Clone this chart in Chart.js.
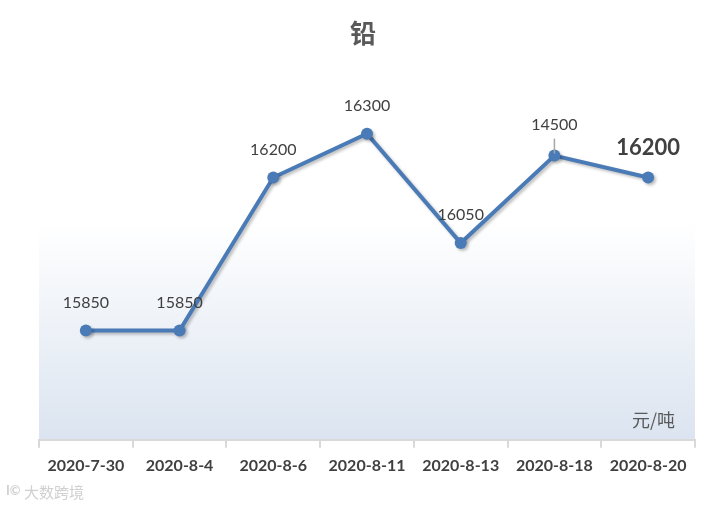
<!DOCTYPE html>
<html>
<head>
<meta charset="utf-8">
<script src="https://cdn.jsdelivr.net/npm/chart.js@4/dist/chart.umd.min.js"></script>
<style>
  html, body { margin: 0; padding: 0; background: #fff; }
  #wrap { width: 726px; height: 507px; position: relative; }
</style>
</head>
<body>
<div id="wrap"><canvas id="chart" width="726" height="507"></canvas></div>
<script>
const dates = ['2020-7-30', '2020-8-4', '2020-8-6', '2020-8-11', '2020-8-13', '2020-8-18', '2020-8-20'];
const prices = [15850, 15850, 16200, 16300, 16050, 16250, 16200];
// label text as printed on the original (the 8-18 label reads 14500)
const priceLabels = ['15850', '15850', '16200', '16300', '16050', '14500', '16200'];
const yMin = 15600;
const yMax = 16400;

const blue = '#4a7bb7';
const numFont = 'Lato, "Open Sans", sans-serif';
const cjkFont = '"Noto Sans CJK SC", sans-serif';

// gradient panel behind the plot, title, unit text and watermark
const decor = {
  id: 'decor',
  beforeDraw(chart) {
    const { ctx, chartArea: a } = chart;
    ctx.save();
    const g = ctx.createLinearGradient(0, a.top, 0, a.bottom);
    g.addColorStop(0, 'rgba(255,255,255,1)');
    g.addColorStop(0.38, 'rgba(255,255,255,1)');
    g.addColorStop(1, '#dbe4f0');
    ctx.fillStyle = g;
    ctx.fillRect(a.left, a.top, a.right - a.left, a.bottom - a.top);
    ctx.restore();
  },
  afterDraw(chart) {
    const { ctx, chartArea: a } = chart;
    ctx.save();
    ctx.fillStyle = '#595959';
    ctx.textAlign = 'center';
    ctx.textBaseline = 'middle';
    ctx.font = 'bold 26px ' + cjkFont;
    ctx.fillText('铅', 363, 33);
    ctx.font = '18px ' + cjkFont;
    ctx.textAlign = 'right';
    ctx.fillText('元/吨', a.right - 20, a.bottom - 20);
    ctx.font = '15px ' + cjkFont;
    ctx.textAlign = 'left';
    ctx.fillStyle = '#d0d0d0';
    ctx.fillText('大数跨境', 24, 492);
    ctx.font = 'bold 13px ' + numFont;
    ctx.fillText('I©', 6, 491);
    ctx.restore();
  }
};

const lineShadow = {
  id: 'lineShadow',
  beforeDatasetDraw(chart) {
    const ctx = chart.ctx;
    ctx.save();
    ctx.shadowColor = 'rgba(0,0,0,0.25)';
    ctx.shadowBlur = 3;
    ctx.shadowOffsetX = 2;
    ctx.shadowOffsetY = 2;
  },
  afterDatasetDraw(chart) {
    chart.ctx.restore();
  }
};

const dataLabels = {
  id: 'dataLabels',
  afterDatasetsDraw(chart) {
    const { ctx } = chart;
    const pts = chart.getDatasetMeta(0).data;
    ctx.save();
    ctx.textAlign = 'center';
    ctx.textBaseline = 'middle';
    pts.forEach((p, i) => {
      const last = i === pts.length - 1;
      let dy = 28;
      if (i === 5) dy = 31;
      if (last) dy = 30;
      if (i === 5) {
        ctx.strokeStyle = '#a6a6a6';
        ctx.lineWidth = 1.5;
        ctx.beginPath();
        ctx.moveTo(p.x, p.y - 17);
        ctx.lineTo(p.x, p.y - 2);
        ctx.stroke();
      }
      ctx.fillStyle = '#404040';
      ctx.font = (last ? 'bold 22px ' : '16px ') + numFont;
      ctx.fillText(priceLabels[i], p.x, p.y - dy);
    });
    ctx.restore();
  }
};

new Chart(document.getElementById('chart'), {
  type: 'line',
  data: {
    labels: dates,
    datasets: [{
      data: prices,
      borderColor: blue,
      backgroundColor: blue,
      borderWidth: 4,
      pointRadius: 6,
      pointBackgroundColor: blue,
      pointBorderWidth: 0,
      tension: 0
    }]
  },
  options: {
    responsive: false,
    animation: false,
    layout: { padding: { top: 90, left: 39, right: 31, bottom: 24 } },
    plugins: {
      legend: { display: false },
      tooltip: { enabled: false }
    },
    scales: {
      x: {
        offset: true,
        grid: {
          display: true,
          drawOnChartArea: false,
          offset: true,
          tickLength: 8,
          color: '#d9d9d9',
          lineWidth: 2
        },
        border: { color: '#d9d9d9', width: 2 },
        ticks: {
          color: '#404040',
          font: { family: numFont, size: 16, weight: 'bold' },
          padding: 8,
          maxRotation: 0
        }
      },
      y: {
        display: false,
        min: yMin,
        max: yMax
      }
    }
  },
  plugins: [decor, lineShadow, dataLabels]
});
</script>
</body>
</html>
